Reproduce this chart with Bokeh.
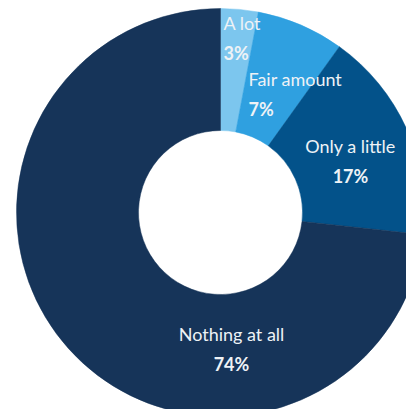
import math
from bokeh.plotting import figure
from bokeh.models import Range1d
from bokeh.core.properties import value
from bokeh.embed import file_html
from bokeh.resources import INLINE

# data
categories = ["A lot", "Fair amount", "Only a little", "Nothing at all"]
percents = [3, 7, 17, 74]
colors = ["#7CC6EE", "#2FA0E0", "#03528A", "#163459"]

# layout (label anchor positions, in pixel-like data units relative to donut centre)
label_pos = [(3, 190, "left"), (28, 134, "left"), (130, 67, "center"), (11, -121, "center")]
pct_offset = 30

W, H = 406, 409
cx, cy = 220, 212          # donut centre within the figure, in px
outer_r, inner_r = 204, 82

p = figure(width=W, height=H, output_backend="svg", toolbar_location=None,
           x_range=Range1d(-cx, W - cx), y_range=Range1d(-(H - cy), cy),
           min_border=0)
p.axis.visible = False
p.grid.visible = False
p.outline_line_color = None
p.background_fill_color = "white"
p.border_fill_color = "white"

total = sum(percents)
cum = 0
starts, ends = [], []
for v in percents:
    starts.append(math.pi / 2 - 2 * math.pi * cum / total)
    cum += v
    ends.append(math.pi / 2 - 2 * math.pi * cum / total)

p.annular_wedge(x=[0] * len(percents), y=[0] * len(percents), inner_radius=inner_r,
                outer_radius=outer_r, start_angle=starts, end_angle=ends,
                direction="clock", fill_color=colors, line_color=colors, line_width=0.5)

for cat, pct, (lx, ly, al) in zip(categories, percents, label_pos):
    p.text(x=[lx], y=[ly], text=[cat], text_align=al, text_baseline="middle",
           text_font=value("Lato"), text_font_size="18px", text_color="#EEF2F6")
    p.text(x=[lx], y=[ly - pct_offset], text=[f"{pct}%"], text_align=al,
           text_baseline="middle", text_font=value("Lato"), text_font_size="18px",
           text_font_style="bold", text_color="#EEF2F6")

open("out.html", "w").write(file_html(p, INLINE))
